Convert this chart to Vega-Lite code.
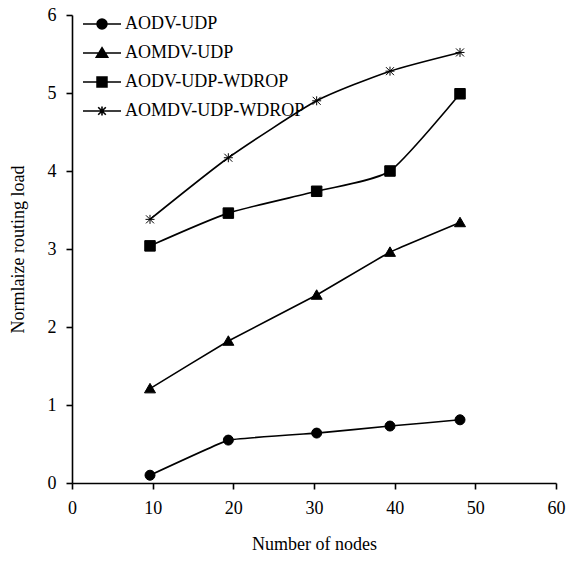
{
  "$schema": "https://vega.github.io/schema/vega-lite/v6.json",
  "width": 484,
  "height": 468,
  "autosize": "none",
  "padding": {"left": 72, "top": 15, "right": 14, "bottom": 78},
  "background": "white",
  "config": {
    "view": {"stroke": null},
    "font": "Liberation Serif",
    "axis": {
      "grid": false,
      "domainColor": "black",
      "domainWidth": 1.6,
      "tickColor": "black",
      "tickWidth": 1.6,
      "tickSize": 6,
      "labelFont": "Liberation Serif",
      "labelFontSize": 18,
      "labelColor": "black",
      "titleFont": "Liberation Serif",
      "titleFontSize": 18,
      "titleFontWeight": "normal",
      "titleColor": "black"
    },
    "legend": {
      "labelFont": "Liberation Serif",
      "labelFontSize": 18,
      "labelColor": "black",
      "labelLimit": 400
    }
  },
  "data": {
    "values": [
      {"series": "AODV-UDP", "nodes": 9.67, "load": 0.1},
      {"series": "AODV-UDP", "nodes": 19.38, "load": 0.55},
      {"series": "AODV-UDP", "nodes": 30.33, "load": 0.64},
      {"series": "AODV-UDP", "nodes": 39.42, "load": 0.73},
      {"series": "AODV-UDP", "nodes": 48.1, "load": 0.81},
      {"series": "AOMDV-UDP", "nodes": 9.67, "load": 1.21},
      {"series": "AOMDV-UDP", "nodes": 19.38, "load": 1.82},
      {"series": "AOMDV-UDP", "nodes": 30.33, "load": 2.41},
      {"series": "AOMDV-UDP", "nodes": 39.42, "load": 2.96},
      {"series": "AOMDV-UDP", "nodes": 48.1, "load": 3.34},
      {"series": "AODV-UDP-WDROP", "nodes": 9.67, "load": 3.04},
      {"series": "AODV-UDP-WDROP", "nodes": 19.38, "load": 3.46},
      {"series": "AODV-UDP-WDROP", "nodes": 30.33, "load": 3.74},
      {"series": "AODV-UDP-WDROP", "nodes": 39.42, "load": 4.0},
      {"series": "AODV-UDP-WDROP", "nodes": 48.1, "load": 4.99},
      {"series": "AOMDV-UDP-WDROP", "nodes": 9.67, "load": 3.38},
      {"series": "AOMDV-UDP-WDROP", "nodes": 19.38, "load": 4.17},
      {"series": "AOMDV-UDP-WDROP", "nodes": 30.33, "load": 4.9},
      {"series": "AOMDV-UDP-WDROP", "nodes": 39.42, "load": 5.28},
      {"series": "AOMDV-UDP-WDROP", "nodes": 48.1, "load": 5.52}
    ]
  },
  "encoding": {
    "x": {
      "field": "nodes", "type": "quantitative",
      "scale": {"domain": [0, 60], "nice": false, "zero": false},
      "axis": {"values": [0, 10, 20, 30, 40, 50, 60], "title": "Number of nodes", "labelPadding": 10, "titlePadding": 18, "labelFlush": false}
    },
    "y": {
      "field": "load", "type": "quantitative",
      "scale": {"domain": [0, 6], "nice": false},
      "axis": {"values": [0, 1, 2, 3, 4, 5, 6], "title": "Normlaize routing load", "labelPadding": 10, "titlePadding": 20, "labelFlush": false}
    }
  },
  "layer": [
    {
      "transform": [{"filter": "datum.series === 'AODV-UDP' || datum.series === 'AOMDV-UDP'"}],
      "mark": {"type": "line", "color": "black", "strokeWidth": 1.6, "interpolate": "cardinal", "tension": 0.8},
      "encoding": {"detail": {"field": "series"}}
    },
    {
      "transform": [{"filter": "datum.series === 'AODV-UDP-WDROP' || datum.series === 'AOMDV-UDP-WDROP'"}],
      "mark": {"type": "line", "color": "black", "strokeWidth": 1.6, "interpolate": "cardinal", "tension": 0.4},
      "encoding": {"detail": {"field": "series"}}
    },
    {
      "mark": {"type": "point", "filled": true, "color": "black", "fill": "black", "stroke": "black", "strokeWidth": 1, "size": 100, "opacity": 1},
      "encoding": {
        "shape": {
          "field": "series", "type": "nominal",
          "scale": {
            "domain": ["AODV-UDP", "AOMDV-UDP", "AODV-UDP-WDROP", "AOMDV-UDP-WDROP"],
            "range": [
              "M-1,0A1,1,0,1,1,1,0A1,1,0,1,1,-1,0Z",
              "M0,-1.05L1.1,0.85L-1.1,0.85Z",
              "M-1.05,-1.05H1.05V1.05H-1.05Z",
              "M-0.8,-0.8L0.8,0.8M0.8,-0.8L-0.8,0.8M0,-0.9L0,0.9M-0.9,0L0.9,0"
            ]
          },
          "legend": null
        }
      }
    },
    {
      "mark": {"type": "point", "filled": true, "color": "black", "fill": "black", "stroke": "black", "strokeWidth": 1.6, "opacity": 0},
      "encoding": {
        "shape": {
          "field": "series", "type": "nominal",
          "scale": {
            "domain": ["AODV-UDP", "AOMDV-UDP", "AODV-UDP-WDROP", "AOMDV-UDP-WDROP"],
            "range": [
              "M-1,0H1M-0.26,0A0.26,0.26,0,1,1,0.26,0A0.26,0.26,0,1,1,-0.26,0Z",
              "M-1,0H1M0,-0.28L0.3,0.22L-0.3,0.22Z",
              "M-1,0H1M-0.26,-0.26H0.26V0.26H-0.26Z",
              "M-1,0H1M-0.2,-0.2L0.2,0.2M0.2,-0.2L-0.2,0.2M0,-0.24L0,0.24"
            ]
          },
          "legend": {
            "title": null,
            "orient": "none",
            "legendX": 10,
            "legendY": -11,
            "symbolSize": 1444,
            "symbolOpacity": 1,
            "symbolStrokeWidth": 1.6,
            "rowPadding": -7,
            "labelOffset": 3,
            "encode": {
              "symbols": {
                "fill": {"value": "black"},
                "stroke": {"value": "black"},
                "strokeWidth": {"value": 1.6},
                "opacity": {"value": 1}
              }
            }
          }
        }
      }
    }
  ],
  "resolve": {"scale": {"shape": "independent"}}
}
